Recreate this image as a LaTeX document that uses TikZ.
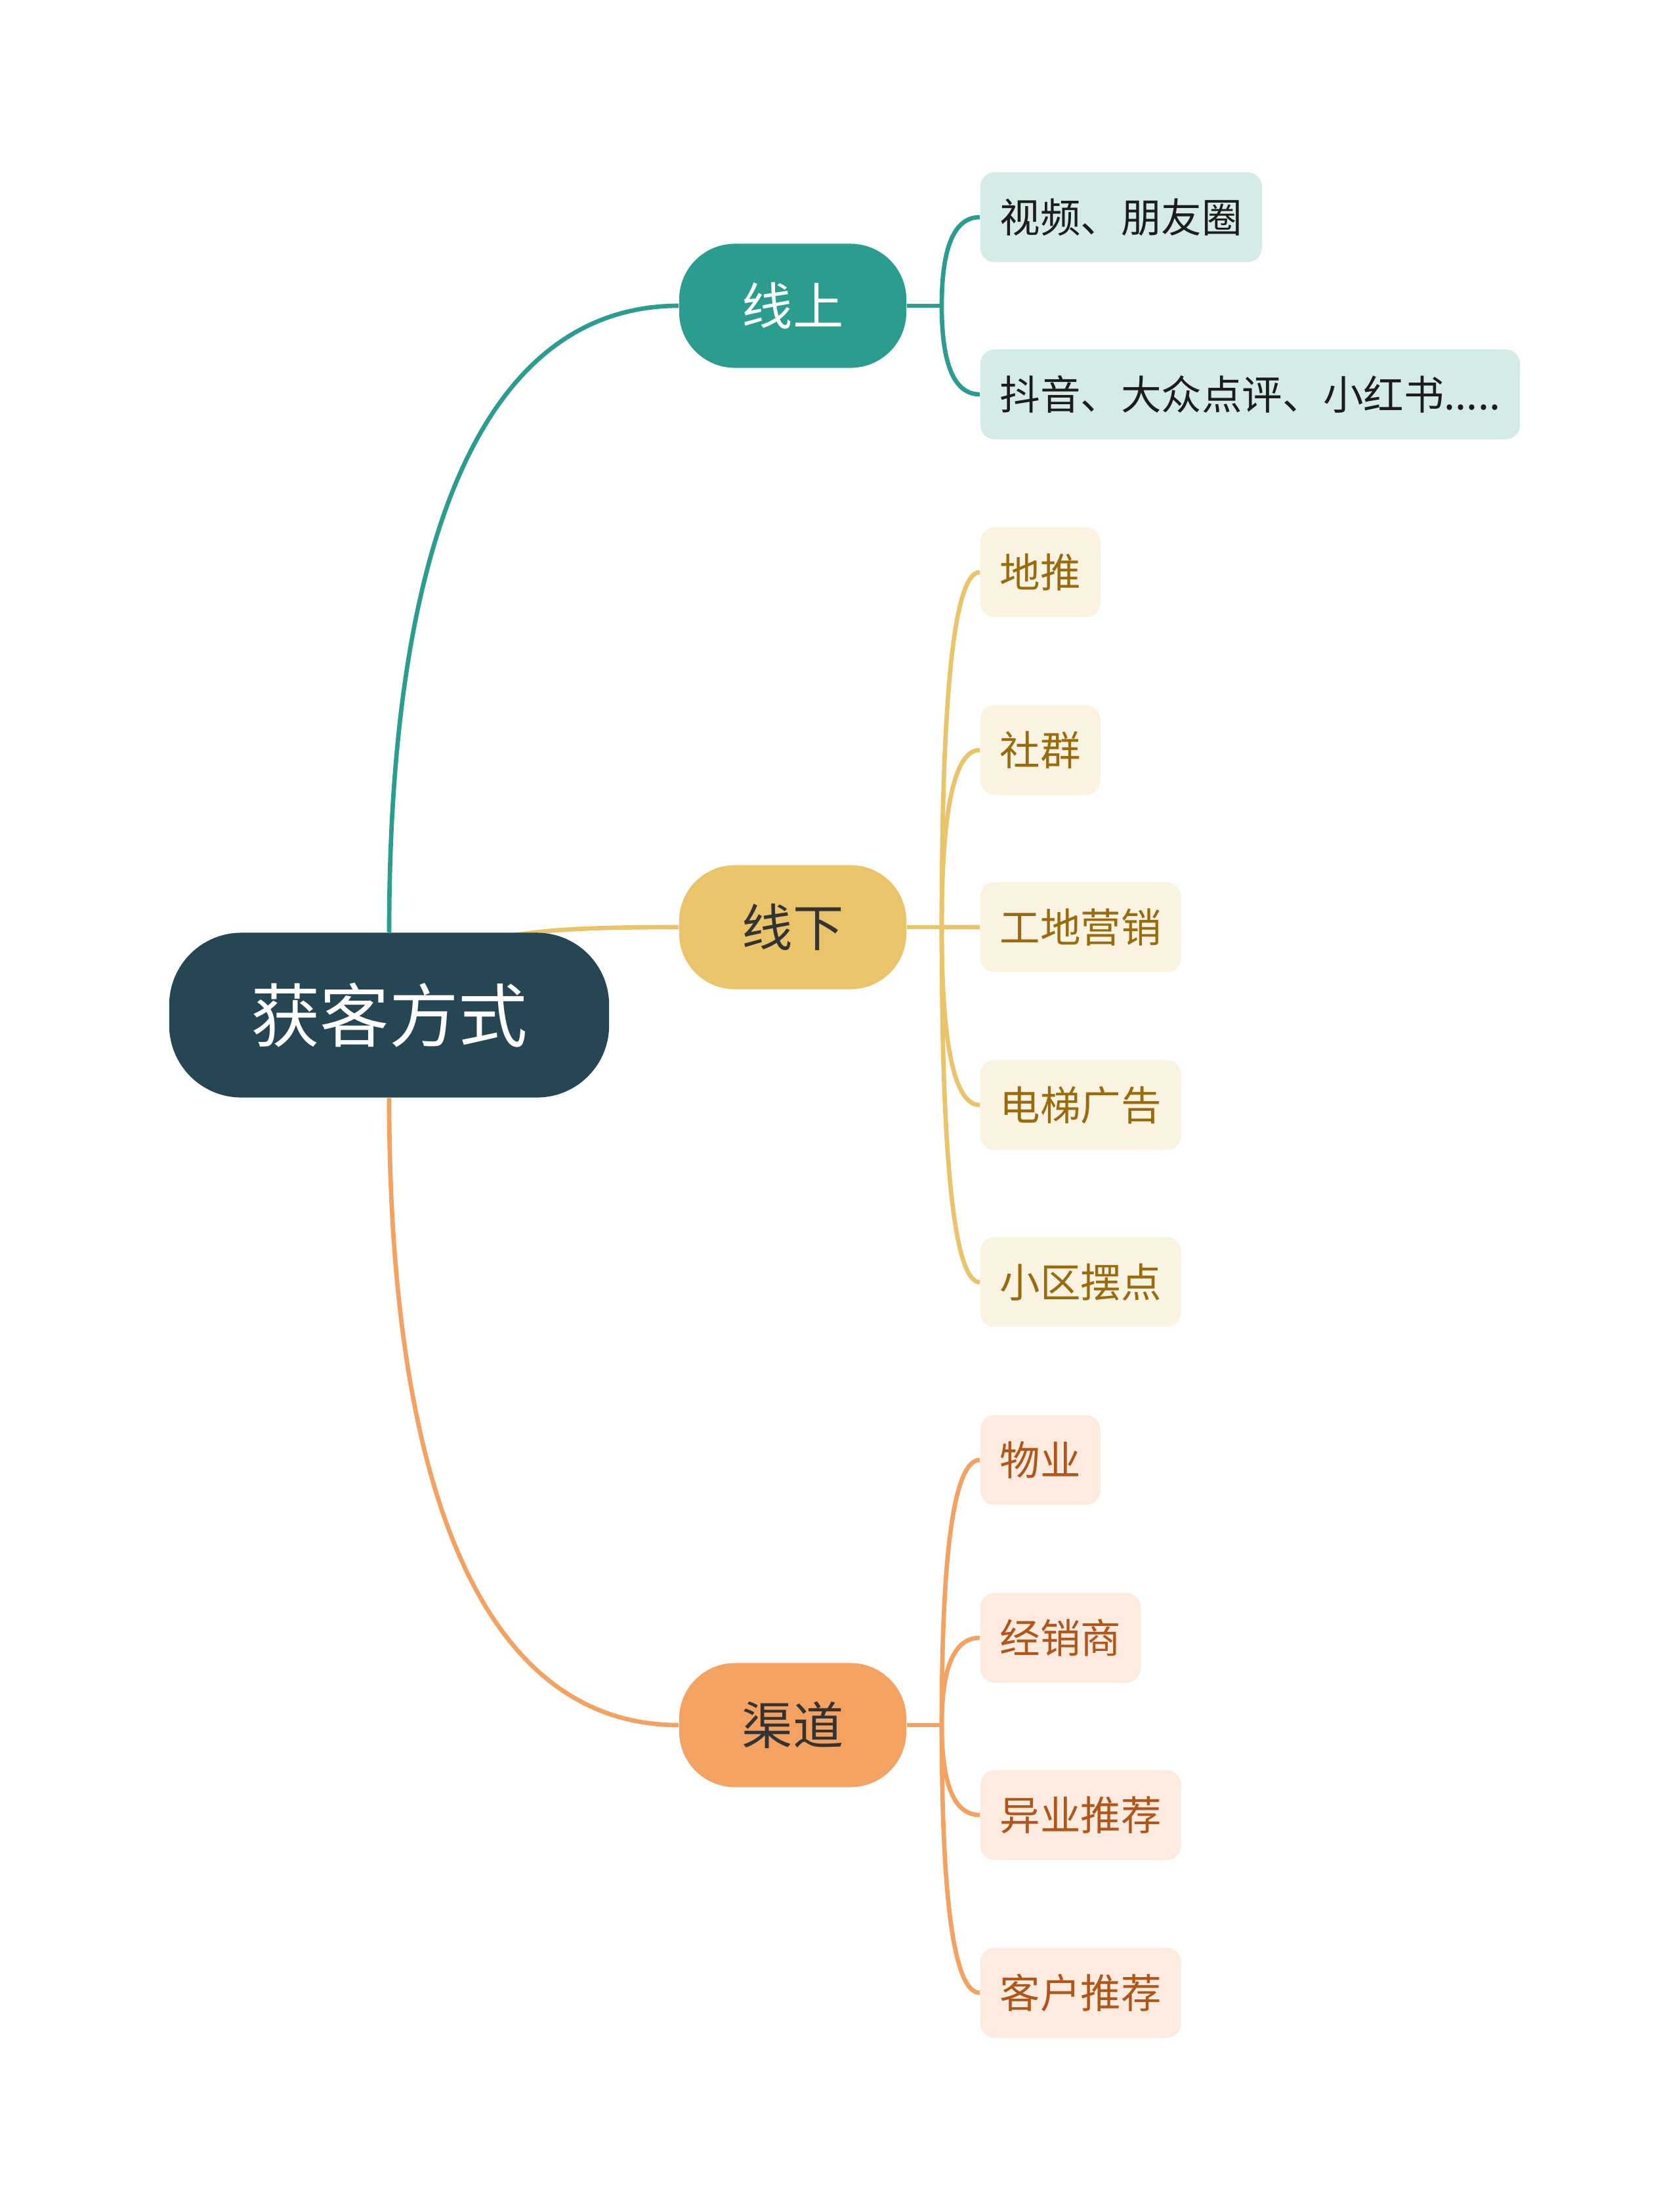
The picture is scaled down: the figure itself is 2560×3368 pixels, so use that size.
\documentclass[tikz,border=0pt]{standalone}
\usepackage{fontspec}
\setmainfont{Noto Sans CJK SC}
\usetikzlibrary{backgrounds,calc}

\definecolor{rootblue}{HTML}{264653}
\definecolor{onteal}{HTML}{2A9D8F}
\definecolor{offgold}{HTML}{E9C46A}
\definecolor{chorange}{HTML}{F4A261}
\definecolor{onleaf}{HTML}{D5EBE8}
\definecolor{offleaf}{HTML}{FBF3E1}
\definecolor{chleaf}{HTML}{FDEBDF}
\definecolor{ontext}{HTML}{1C1C1C}
\definecolor{offtext}{HTML}{9A6B0D}
\definecolor{chtext}{HTML}{B0561B}

\begin{document}
\begin{tikzpicture}[x=0.01cm, y=-0.01cm,
	root/.style={fill=rootblue, text=white, rounded corners=1.1cm, inner sep=0pt, minimum width=6.7cm, minimum height=2.51cm, font=\fontsize{30}{36}\selectfont},
	topic/.style={rounded corners=0.85cm, inner sep=0pt, minimum width=3.46cm, minimum height=1.89cm, font=\fontsize{22}{26}\selectfont},
	leaf/.style={anchor=west, rounded corners=0.22cm, inner xsep=0.3cm, inner ysep=0pt, minimum height=1.37cm, font=\fontsize{17.5}{21}\selectfont},
	link/.style={line width=1.9pt}]
	\useasboundingbox (0,0) rectangle (2560,3368);
	% root and the three main topics
	\node[root] (root) at (593,1547) {获客方式};
	\node[topic, fill=onteal, text=white] (on) at (1208,466) {线上};
	\node[topic, fill=offgold, text=black!80] (off) at (1208,1413) {线下};
	\node[topic, fill=chorange, text=black!80] (ch) at (1208,2629) {渠道};
	% leaves
	\node[leaf, fill=onleaf, text=ontext] (on1) at (1493,331) {视频、朋友圈};
	\node[leaf, fill=onleaf, text=ontext] (on2) at (1493,601) {抖音、大众点评、小红书.....};
	\node[leaf, fill=offleaf, text=offtext] (off1) at (1493,872) {地推};
	\node[leaf, fill=offleaf, text=offtext] (off2) at (1493,1143) {社群};
	\node[leaf, fill=offleaf, text=offtext] (off3) at (1493,1413) {工地营销};
	\node[leaf, fill=offleaf, text=offtext] (off4) at (1493,1684) {电梯广告};
	\node[leaf, fill=offleaf, text=offtext] (off5) at (1493,1954) {小区摆点};
	\node[leaf, fill=chleaf, text=chtext] (ch1) at (1493,2225) {物业};
	\node[leaf, fill=chleaf, text=chtext] (ch2) at (1493,2496) {经销商};
	\node[leaf, fill=chleaf, text=chtext] (ch3) at (1493,2766) {异业推荐};
	\node[leaf, fill=chleaf, text=chtext] (ch4) at (1493,3037) {客户推荐};
	% junctions of the leaf brackets
	\coordinate (onj) at (1435,466);
	\coordinate (offj) at (1435,1413);
	\coordinate (chj) at (1435,2629);
	\begin{scope}[on background layer]
		% root to topics
		\draw[link, onteal] (root.north) .. controls +(0,-621) and +(-287,0) .. (on.west);
		\draw[link, offgold] (root.center) .. controls (650,1420) and (800,1413) .. (off.west);
		\draw[link, chorange] (root.south) .. controls +(0,621) and +(-287,0) .. (ch.west);
		% topics to leaves
		\draw[link, onteal] (on.east) -- (onj);
		\draw[link, offgold] (off.east) -- (offj);
		\draw[link, chorange] (ch.east) -- (chj);
		\foreach \i in {1,2}
			\draw[link, onteal] (onj) .. controls ($(onj)!2/3!(onj |- on\i.west)$) and ($(on\i.west)!2/3!(onj |- on\i.west)$) .. (on\i.west);
		\foreach \i in {1,...,5}
			\draw[link, offgold] (offj) .. controls ($(offj)!2/3!(offj |- off\i.west)$) and ($(off\i.west)!2/3!(offj |- off\i.west)$) .. (off\i.west);
		\foreach \i in {1,...,4}
			\draw[link, chorange] (chj) .. controls ($(chj)!2/3!(chj |- ch\i.west)$) and ($(ch\i.west)!2/3!(chj |- ch\i.west)$) .. (ch\i.west);
	\end{scope}
\end{tikzpicture}
\end{document}
